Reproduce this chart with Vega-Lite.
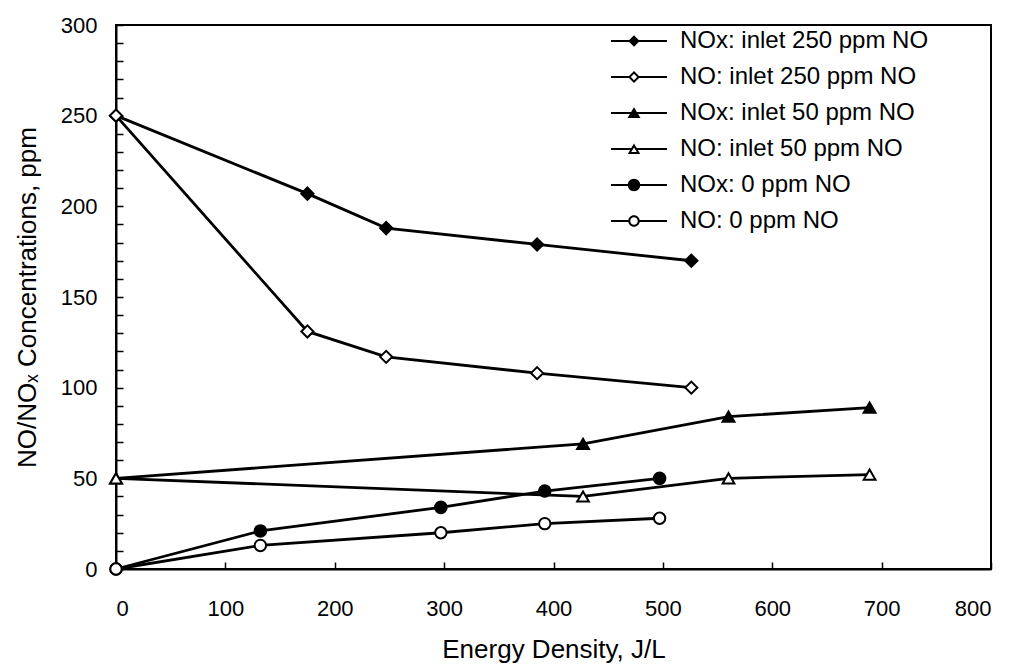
{
  "$schema": "https://vega.github.io/schema/vega-lite/v6.json",
  "autosize": {"type": "none"},
  "padding": {"left": 116, "top": 25, "right": 23, "bottom": 97},
  "width": 875,
  "height": 544,
  "background": "white",
  "config": {
    "font": "Liberation Sans",
    "view": {"stroke": "black", "strokeWidth": 2},
    "axis": {"domainColor": "black", "domainWidth": 2, "tickColor": "black", "tickWidth": 1.5, "grid": false, "labelColor": "black", "titleColor": "black", "labelFont": "Liberation Sans", "titleFont": "Liberation Sans", "titleFontWeight": "normal"},
    "legend": {"symbolSize": 100, "symbolStrokeWidth": 0, "padding": 0}
  },
  "data": {"values": [
    {"s": "NOx: inlet 250 ppm NO", "x": 0, "y": 250},
    {"s": "NOx: inlet 250 ppm NO", "x": 175, "y": 207},
    {"s": "NOx: inlet 250 ppm NO", "x": 247, "y": 188},
    {"s": "NOx: inlet 250 ppm NO", "x": 385, "y": 179},
    {"s": "NOx: inlet 250 ppm NO", "x": 526, "y": 170},
    {"s": "NO: inlet 250 ppm NO", "x": 0, "y": 250},
    {"s": "NO: inlet 250 ppm NO", "x": 175, "y": 131},
    {"s": "NO: inlet 250 ppm NO", "x": 247, "y": 117},
    {"s": "NO: inlet 250 ppm NO", "x": 385, "y": 108},
    {"s": "NO: inlet 250 ppm NO", "x": 526, "y": 100},
    {"s": "NOx: inlet 50 ppm NO", "x": 0, "y": 50},
    {"s": "NOx: inlet 50 ppm NO", "x": 427, "y": 69},
    {"s": "NOx: inlet 50 ppm NO", "x": 560, "y": 84},
    {"s": "NOx: inlet 50 ppm NO", "x": 689, "y": 89},
    {"s": "NO: inlet 50 ppm NO", "x": 0, "y": 50},
    {"s": "NO: inlet 50 ppm NO", "x": 427, "y": 40},
    {"s": "NO: inlet 50 ppm NO", "x": 560, "y": 50},
    {"s": "NO: inlet 50 ppm NO", "x": 689, "y": 52},
    {"s": "NOx: 0 ppm NO", "x": 0, "y": 0},
    {"s": "NOx: 0 ppm NO", "x": 132, "y": 21},
    {"s": "NOx: 0 ppm NO", "x": 297, "y": 34},
    {"s": "NOx: 0 ppm NO", "x": 392, "y": 43},
    {"s": "NOx: 0 ppm NO", "x": 497, "y": 50},
    {"s": "NO: 0 ppm NO", "x": 0, "y": 0},
    {"s": "NO: 0 ppm NO", "x": 132, "y": 13},
    {"s": "NO: 0 ppm NO", "x": 297, "y": 20},
    {"s": "NO: 0 ppm NO", "x": 392, "y": 25},
    {"s": "NO: 0 ppm NO", "x": 497, "y": 28}
  ]},
  "encoding": {
    "x": {"field": "x", "type": "quantitative", "scale": {"domain": [0, 800], "nice": false},
      "axis": {"title": "Energy Density, J/L", "values": [0,100,200,300,400,500,600,700,800], "tickSize": -7, "labelFontSize": 22, "labelPadding": 36, "titleFontSize": 26, "titlePadding": 17}},
    "y": {"field": "y", "type": "quantitative", "scale": {"domain": [0, 300], "nice": false},
      "axis": {"title": "NO/NOₓ Concentrations, ppm", "values": [0,10,20,30,40,50,60,70,80,90,100,110,120,130,140,150,160,170,180,190,200,210,220,230,240,250,260,270,280,290,300], "labelExpr": "datum.value % 50 === 0 ? datum.label : ''", "tickSize": -7, "labelFontSize": 22, "labelPadding": 26, "titleFontSize": 26, "titlePadding": 20}}
  },
  "layer": [
    {
      "mark": {"type": "line", "color": "black", "strokeWidth": 2.8},
      "encoding": {"detail": {"field": "s"}}
    },
    {
      "mark": {"type": "point", "filled": false, "stroke": "black", "strokeWidth": 2, "opacity": 1},
      "encoding": {
        "shape": {"field": "s", "type": "nominal", "legend": null,
          "scale": {"domain": ["NOx: inlet 250 ppm NO", "NO: inlet 250 ppm NO", "NOx: inlet 50 ppm NO", "NO: inlet 50 ppm NO", "NOx: 0 ppm NO", "NO: 0 ppm NO"],
            "range": ["diamond", "diamond", "triangle-up", "triangle-up", "circle", "circle"]}},
        "fill": {"field": "s", "type": "nominal", "legend": null,
          "scale": {"domain": ["NOx: inlet 250 ppm NO", "NO: inlet 250 ppm NO", "NOx: inlet 50 ppm NO", "NO: inlet 50 ppm NO", "NOx: 0 ppm NO", "NO: 0 ppm NO"],
            "range": ["black", "white", "black", "white", "black", "white"]}},
        "size": {"field": "s", "type": "nominal", "legend": null,
          "scale": {"domain": ["NOx: inlet 250 ppm NO", "NO: inlet 250 ppm NO", "NOx: inlet 50 ppm NO", "NO: inlet 50 ppm NO", "NOx: 0 ppm NO", "NO: 0 ppm NO"],
            "range": [150, 130, 210, 180, 175, 140]}}
      }
    },
    {
      "transform": [{"filter": "false"}],
      "mark": {"type": "point", "filled": true, "fill": "black", "strokeWidth": 0, "size": 100, "opacity": 1},
      "encoding": {
        "shape": {"field": "s", "type": "nominal",
          "scale": {"domain": ["NOx: inlet 250 ppm NO", "NO: inlet 250 ppm NO", "NOx: inlet 50 ppm NO", "NO: inlet 50 ppm NO", "NOx: 0 ppm NO", "NO: 0 ppm NO"],
            "range": [
              "M-4.6,-0.2H6.6V0.2H-4.6ZM-1.15,0L0,-1.15L1.15,0L0,1.15Z",
              "M-4.6,-0.2H-0.85V0.2H-4.6ZM0.85,-0.2H6.6V0.2H0.85ZM-1.2,0L0,-1.2L1.2,0L0,1.2ZM-0.63,0L0,0.63L0.63,0L0,-0.63Z",
              "M-4.6,-0.2H6.6V0.2H-4.6ZM0,-1.15L1.3,1L-1.3,1Z",
              "M-4.6,-0.2H-0.42V0.2H-4.6ZM0.42,-0.2H6.6V0.2H0.42ZM0,-1.1L1.25,1L-1.25,1ZM0,-0.32L-0.546,0.6L0.546,0.6Z",
              "M-4.6,-0.2H6.6V0.2H-4.6ZM-1.25,0A1.25,1.25 0 1,1 1.25,0A1.25,1.25 0 1,1 -1.25,0Z",
              "M-4.6,-0.2H-0.85V0.2H-4.6ZM0.85,-0.2H6.6V0.2H0.85ZM-1.15,0A1.15,1.15 0 1,1 1.15,0A1.15,1.15 0 1,1 -1.15,0ZM-0.75,0A0.75,0.75 0 1,0 0.75,0A0.75,0.75 0 1,0 -0.75,0Z"
            ]},
          "legend": {"title": null, "orient": "none", "legendX": 506, "legendY": 4, "labelFontSize": 24, "labelLimit": 0, "labelColor": "black", "labelOffset": 34, "rowPadding": 12, "symbolFillColor": "black", "symbolStrokeWidth": 0}}
      }
    }
  ],
  "resolve": {"scale": {"shape": "independent"}}
}
